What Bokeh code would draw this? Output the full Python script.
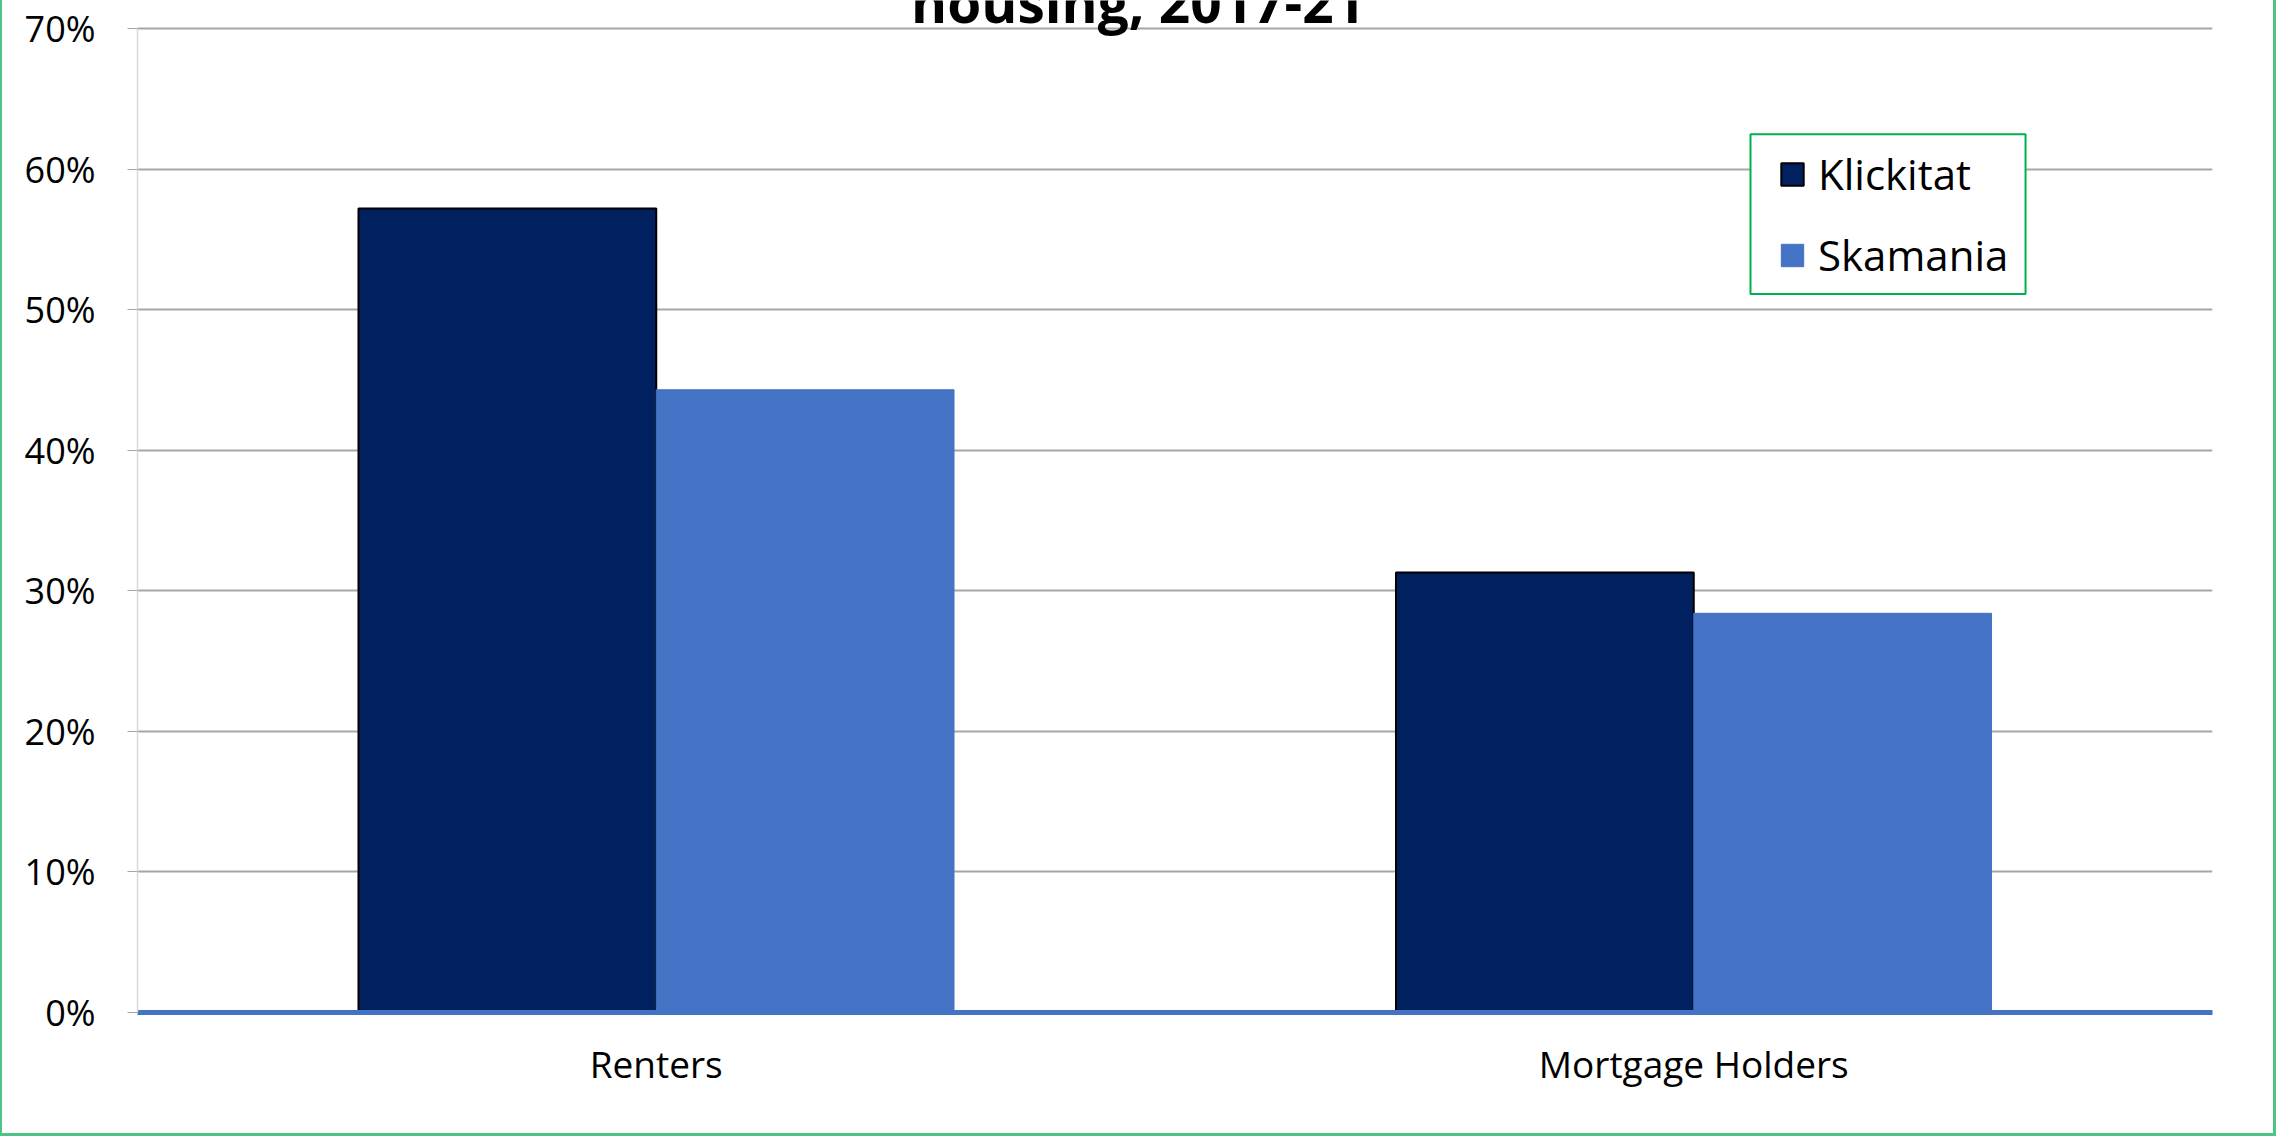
from bokeh.plotting import figure
from bokeh.models import (FactorRange, Range1d, Legend, LegendItem,
                          NumeralTickFormatter, FixedTicker, BoxAnnotation, ColumnDataSource)
from bokeh.transform import dodge
from bokeh.embed import file_html
from bokeh.resources import INLINE
from bokeh.core.properties import value

categories = ["Renters", "Mortgage Holders"]
series_names = ["Klickitat", "Skamania"]
klickitat = [0.572, 0.313]
skamania = [0.443, 0.284]
y_ticks = [0.0, 0.1, 0.2, 0.3, 0.4, 0.5, 0.6, 0.7]
title_text = "housing, 2017-21"

W, H = 2279, 1139
FONT = "Open Sans"
GREEN = "#4DC386"
Y_TOP = 0.7199  # frame extends to the very top so the clipped title can be drawn

p = figure(x_range=FactorRange(*categories), y_range=Range1d(0, Y_TOP),
           width=W, height=H, output_backend="svg", toolbar_location=None,
           min_border_left=137, min_border_right=67, min_border_top=0, min_border_bottom=127,
           styles={"box-shadow": ("inset 0 -3px 0 0 white, inset -3px 0 0 0 white, "
                                  f"inset 0 -6px 0 0 {GREEN}, inset -6px 0 0 0 {GREEN}, "
                                  f"inset 2px 0 0 0 {GREEN}")})
p.outline_line_color = None
p.background_fill_color = "white"
p.border_fill_color = None

source = ColumnDataSource(dict(cat=categories, k=klickitat, s=skamania))
bw = 0.287
r1 = p.vbar(x=dodge("cat", -bw / 2, range=p.x_range), top="k", width=bw, source=source,
            fill_color="#002060", line_color="black", line_width=2)
r2 = p.vbar(x=dodge("cat", bw / 2, range=p.x_range), top="s", width=bw, source=source,
            fill_color="#4472C4", line_color="#4472C4", line_width=1)

p.xgrid.grid_line_color = None
p.ygrid.grid_line_color = "#A6A6A6"
p.ygrid.grid_line_width = 2

ya = p.yaxis[0]
ya.ticker = FixedTicker(ticks=y_ticks)
ya.bounds = (y_ticks[0], y_ticks[-1])
ya.formatter = NumeralTickFormatter(format="0%")
ya.major_label_text_font = FONT
ya.major_label_text_font_size = "36px"
ya.major_label_text_color = "black"
ya.axis_line_color = "#D9D9D9"
ya.axis_line_width = 1.5
ya.major_tick_line_color = "#A6A6A6"
ya.major_tick_out = 10
ya.major_tick_in = 0
ya.minor_tick_line_color = None
ya.major_label_standoff = 32

xa = p.xaxis[0]
xa.axis_line_color = "#4472C4"
xa.axis_line_width = 5
xa.major_tick_line_color = None
xa.minor_tick_line_color = None
xa.major_label_text_font = FONT
xa.major_label_text_font_size = "37px"
xa.major_label_text_color = "black"
xa.major_label_standoff = 19

# title (its top is cut off by the chart edge, as in the reference)
p.text(x=[0.9644], y=[0.719], text=[title_text], text_align="center",
       text_baseline="alphabetic", text_font=value(FONT), text_font_style="bold",
       text_font_size="55px", text_color="black")

# legend frame (white box with green border)
p.add_layout(BoxAnnotation(left=1.5547, right=1.8198, top=0.6248, bottom=0.5111,
                           fill_color="white", fill_alpha=1,
                           line_color="#00B050", line_alpha=1, line_width=2))

legend = Legend(items=[LegendItem(label=series_names[0], renderers=[r1]),
                       LegendItem(label=series_names[1], renderers=[r2])],
                location=(1641, 729), border_line_color=None,
                label_text_font=FONT, label_text_font_size="42px", label_text_color="black",
                glyph_width=28, glyph_height=28, label_standoff=12, padding=0, spacing=24,
                margin=0, background_fill_alpha=0)
p.add_layout(legend, "center")

open("out.html", "w").write(file_html(p, INLINE))
